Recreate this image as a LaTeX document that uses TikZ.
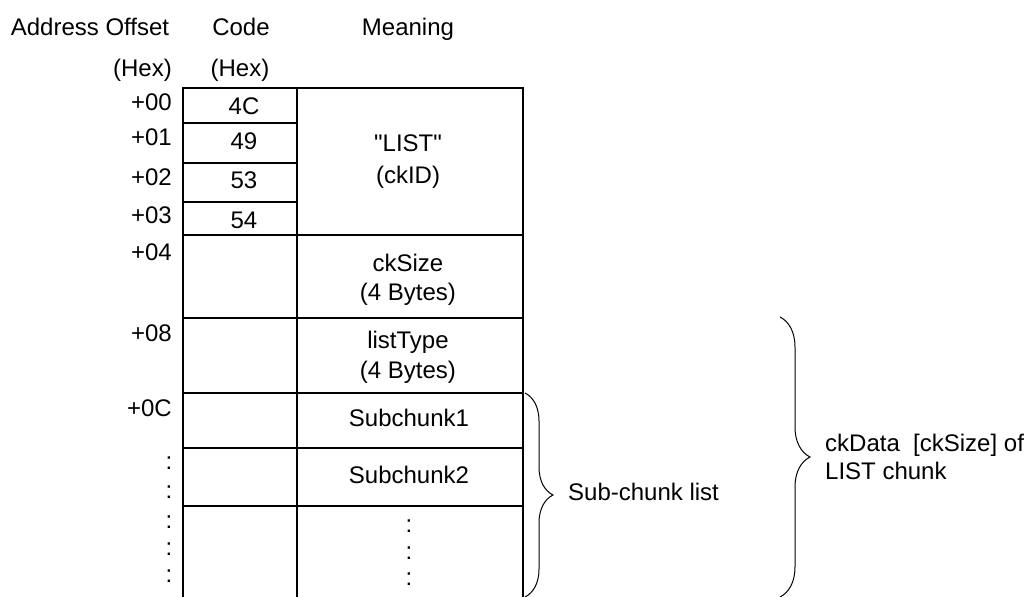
\documentclass[tikz,border=0pt]{standalone}
\usepackage{fontspec}
\setmainfont{Liberation Sans}[Ligatures=TeXOff]
\usetikzlibrary{decorations.pathreplacing,positioning}
\definecolor{FrameBlack}{RGB}{0,0,0}

\begin{document}
\begin{tikzpicture}[x=1pt,y=-1pt,
    txt/.style={font=\fontsize{24}{28}\selectfont,inner sep=0pt},
    lbl/.style={txt,text height=17pt,text depth=0pt},
    dots/.style={txt,text height=12.5pt,text depth=0pt},
    grid/.style={line width=2.5pt,FrameBlack},
    brc/.style={decorate,decoration={brace,amplitude=#1},line width=1pt}]
  \useasboundingbox (0,0) rectangle (1026,597);
  % column heads
  \node[lbl] (hAddr) at (90,27) {Address Offset};
  \node[lbl] (hCode) at (241,27) {Code};
  \node[lbl] (hMean) at (408,27) {Meaning};
  \node[lbl,anchor=east] (hHexA) at (172,68) {(Hex)};
  \node[lbl] (hHexC) at (240,68) {(Hex)};
  % table frame, open at the bottom
  \draw[grid] (183,597) -- (183,88) -- (523,88) -- (523,597);
  \draw[grid] (297,88) -- (297,597);
  \foreach \y in {123,163,202} \draw[grid] (183,\y) -- (297,\y);
  \foreach \y in {235,318,393,448,506} \draw[grid] (183,\y) -- (523,\y);
  % offsets and codes
  \foreach \y/\lab in {102/00,137/01,177/02,215/03,252/04,333/08,408/0C}
    \node[lbl,anchor=east] (off\lab) at (172,\y) {+\lab};
  \foreach \y/\c in {106/4C,141/49,180/53,220/54}
    \node[lbl] (code\c) at (244,\y) {\c};
  \foreach \y [count=\i] in {463,492,522,549,576}
    \node[dots] (odot\i) at (169,\y) {:};
  % meaning column
  \node[lbl] (mList) at (408,143) {"LIST"};
  \node[lbl] (mId) at (408,175) {(ckID)};
  \node[lbl] (mSize) at (408,263) {ckSize};
  \node[lbl] (mSizeB) at (408,292) {(4 Bytes)};
  \node[lbl] (mType) at (408,340) {listType};
  \node[lbl] (mTypeB) at (408,370) {(4 Bytes)};
  \node[lbl] (mSub1) at (409,418) {Subchunk1};
  \node[lbl] (mSub2) at (409,475) {Subchunk2};
  \foreach \y [count=\i] in {526,553,579}
    \node[dots] (mdot\i) at (409,\y) {:};
  % braces
  \coordinate (subTop) at (525,393);
  \coordinate (subBot) at (525,597);
  \draw[brc=28pt] (subTop) -- (subBot);
  \node[lbl,anchor=west] (subLbl) at (568,492) {Sub-chunk list};
  \coordinate (dataTop) at (780,317);
  \coordinate (dataBot) at (780,597);
  \draw[brc=30pt] (dataTop) -- (dataBot);
  \node[txt,anchor=west,align=left] (dataLbl) at (825,457) {ckData\ \ [ckSize] of\\LIST chunk};
\end{tikzpicture}
\end{document}
